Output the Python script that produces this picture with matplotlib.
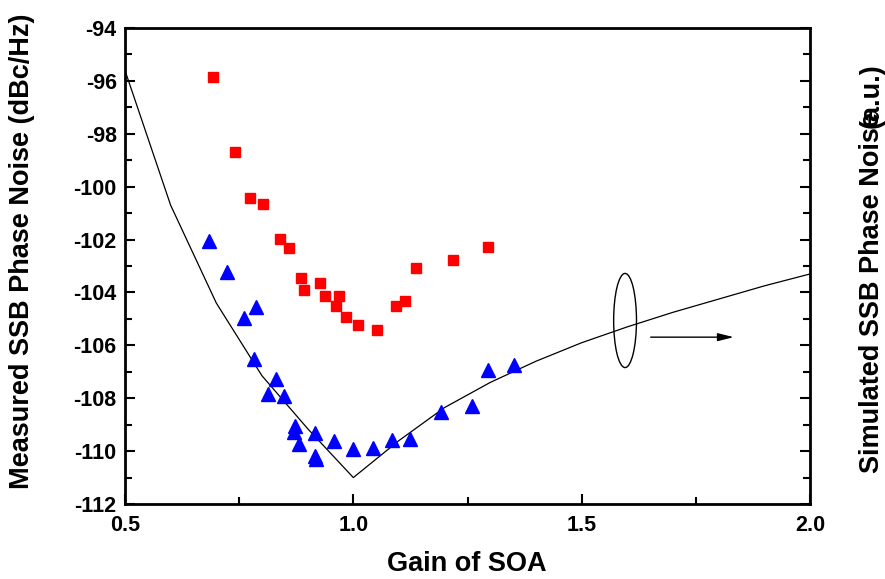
import matplotlib
matplotlib.use("Agg")
import matplotlib.pyplot as plt
from matplotlib.patches import Ellipse
from matplotlib.ticker import MultipleLocator, FixedLocator

plt.rcParams['font.family'] = ['Liberation Sans', 'DejaVu Sans']
plt.rcParams['font.weight'] = 'bold'
plt.rcParams['axes.unicode_minus'] = False

# Measured (red squares)
meas1_x = [0.693, 0.741, 0.774, 0.802, 0.839, 0.859, 0.886, 0.893, 0.928, 0.937,
           0.969, 0.963, 0.985, 1.010, 1.052, 1.094, 1.114, 1.137, 1.218, 1.295]
meas1_y = [-95.86, -98.70, -100.44, -100.67, -101.99, -102.33, -103.44, -103.91, -103.66, -104.15,
           -104.15, -104.53, -104.91, -105.24, -105.41, -104.53, -104.33, -103.06, -102.79, -102.28]

# Measured (blue triangles)
meas2_x = [0.683, 0.723, 0.761, 0.786, 0.782, 0.830, 0.814, 0.848, 0.872, 0.871,
           0.882, 0.915, 0.917, 0.919, 0.957, 1.000, 1.042, 1.084, 1.125, 1.191,
           1.259, 1.295, 1.352]
meas2_y = [-102.05, -103.23, -104.98, -104.54, -106.53, -107.28, -107.84, -107.93, -109.04, -109.28,
           -109.73, -109.33, -110.20, -110.30, -109.61, -109.91, -109.88, -109.57, -109.53, -108.53,
           -108.31, -106.94, -106.73]

# Simulated (black line)
sim_x = [0.5, 0.6, 0.7, 0.8, 0.9, 1.0, 1.1, 1.2, 1.3, 1.4, 1.5, 1.6, 1.7, 1.8, 1.9, 2.0]
sim_y = [-95.6, -100.7, -104.4, -107.15, -109.15, -111.0, -109.6, -108.35, -107.4, -106.6,
         -105.9, -105.3, -104.75, -104.25, -103.75, -103.3]

fig = plt.figure(figsize=(8.85, 5.79), dpi=100)
ax = fig.add_axes([0.1412, 0.1295, 0.7741, 0.8221])

ax.plot(sim_x, sim_y, color='black', lw=0.9, zorder=2)
ax.plot(meas1_x, meas1_y, ls='none', marker='s', ms=7.5, color='#ff0000', zorder=3)
ax.plot(meas2_x, meas2_y, ls='none', marker='^', ms=9.5, color='#0000ff', zorder=3)

ax.add_patch(Ellipse((1.595, -105.06), 0.050, 3.56, fill=False, ec='black', lw=1.0))
ax.annotate('', xy=(1.839, -105.69), xytext=(1.645, -105.69),
            arrowprops=dict(arrowstyle='-|>,head_length=0.8,head_width=0.2', color='black',
                            lw=1.0, mutation_scale=12))

ax.set_xlim(0.5, 2.0)
ax.set_ylim(-112, -94)
ax.xaxis.set_major_locator(FixedLocator([0.5, 1.0, 1.5, 2.0]))
ax.xaxis.set_minor_locator(FixedLocator([0.75, 1.25, 1.75]))
ax.yaxis.set_major_locator(MultipleLocator(2))
ax.yaxis.set_minor_locator(MultipleLocator(1))
ax.set_xticklabels(['0.5', '1.0', '1.5', '2.0'])

ax.tick_params(axis='both', which='both', direction='in', labelsize=15.5, width=1.5,
               top=False, right=True)
ax.tick_params(which='major', length=7)
ax.tick_params(which='minor', length=5)
ax.tick_params(axis='y', which='both', right=True, labelright=False)
ax.tick_params(axis='x', pad=8)
ax.tick_params(axis='y', pad=6)
for lab in ax.get_xticklabels() + ax.get_yticklabels():
    lab.set_fontweight('bold')
for s in ax.spines.values():
    s.set_linewidth(2)

ax.set_xlabel('Gain of SOA', fontsize=19.5, fontweight='bold')
ax.set_ylabel('Measured SSB Phase Noise (dBc/Hz)', fontsize=19.5, fontweight='bold')
ax.xaxis.set_label_coords((467 - 125) / 685, -(551 - 504) / 476)
ax.yaxis.set_label_coords(-(125 - 35) / 685, (504 - 251) / 476)

fig.text(872/885, 1 - 473/579, 'Simulated SSB Phase Noise', rotation=90, fontsize=19.5,
         fontweight='bold', ha='center', va='bottom')
fig.text(872/885, 1 - 63/579, '(a.u.)', rotation=90, fontsize=19.5,
         fontweight='bold', ha='center', va='top')

fig.savefig('out.png', dpi=100)
